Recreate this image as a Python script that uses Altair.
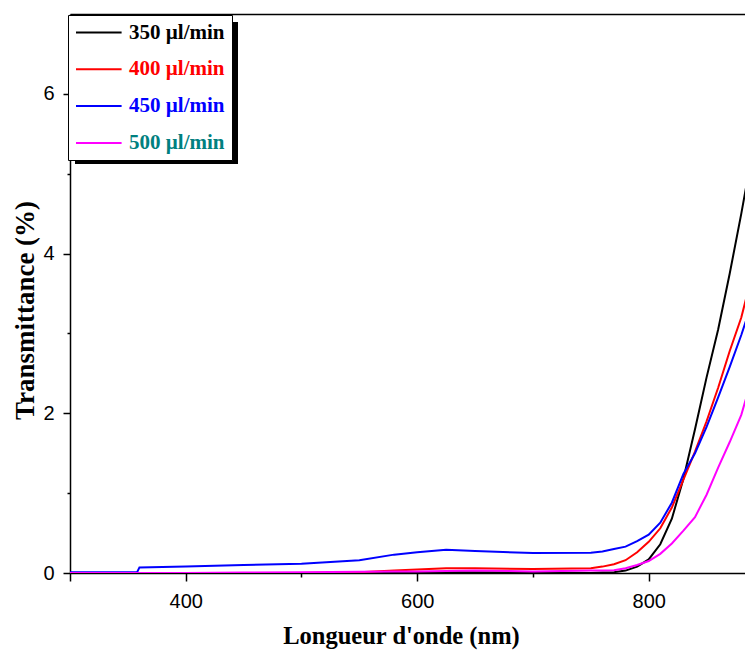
import altair as alt
import pandas as pd

# ---- data ----
wavelength = [300, 330, 358, 360, 400, 450, 500, 550, 580, 600, 625, 650, 700, 750,
              760, 770, 780, 790, 800, 810, 820, 830, 840, 850, 860, 870, 880, 890]
t_350 = [0.0, 0.0, 0.0, 0.0, 0.0, 0.0, 0.0, 0.0, 0.0, 0.005, 0.01, 0.01, 0.005, 0.0,
         0.005, 0.01, 0.03, 0.08, 0.17, 0.36, 0.68, 1.18, 1.80, 2.45, 3.05, 3.75, 4.5, 5.3]
t_400 = [0.0, 0.0, 0.0, 0.0, 0.0, 0.0, 0.0, 0.01, 0.03, 0.045, 0.06, 0.06, 0.05, 0.06,
         0.08, 0.11, 0.16, 0.26, 0.39, 0.56, 0.82, 1.17, 1.52, 1.90, 2.32, 2.78, 3.2, 3.77]
t_450 = [0.01, 0.01, 0.01, 0.07, 0.08, 0.10, 0.115, 0.16, 0.23, 0.26, 0.29, 0.275, 0.25, 0.255,
         0.27, 0.30, 0.33, 0.40, 0.48, 0.63, 0.88, 1.24, 1.50, 1.83, 2.2, 2.58, 2.98, 3.42]
t_500 = [0.0, 0.0, 0.0, 0.0, 0.0, 0.005, 0.01, 0.015, 0.02, 0.02, 0.025, 0.03, 0.02, 0.03,
         0.03, 0.035, 0.06, 0.10, 0.15, 0.24, 0.37, 0.53, 0.70, 0.98, 1.32, 1.64, 1.98, 2.48]

series_names = ["350 µl/min", "400 µl/min", "450 µl/min", "500 µl/min"]
line_colors = ["#000000", "#ff0000", "#0000ff", "#ff00ff"]
label_colors = ["#000000", "#ff0000", "#0000ff", "#008080"]

x_major = [300, 400, 600, 800]
x_minor = [500, 700]
y_major = [0, 2, 4, 6]
y_minor = [1, 3, 5]

rows = []
for name, vals in zip(series_names, [t_350, t_400, t_450, t_500]):
    for w, v in zip(wavelength, vals):
        rows.append({"wl": w, "T": v, "series": name})
df = pd.DataFrame(rows)

xscale = alt.Scale(domain=[300, 883.2], nice=False, zero=False)
yscale = alt.Scale(domain=[0, 7], nice=False, zero=False)

label_expr = "[" + ",".join(f"'{c}'" for c in label_colors) + "][datum.index]"

lines = alt.Chart(df).mark_line(strokeWidth=2, clip=True).encode(
    x=alt.X("wl:Q", scale=xscale,
            axis=alt.Axis(orient="bottom", values=x_major, title="Longueur d'onde (nm)",
                          labelExpr="datum.value == 300 ? '' : datum.label",
                          tickSize=8, labelPadding=10, labelFlush=False,
                          titleX=331, titleY=70, titleBaseline="alphabetic",
                          titleFontSize=24.5)),
    y=alt.Y("T:Q", scale=yscale,
            axis=alt.Axis(orient="left", values=y_major, title="Transmittance (%)", format="d",
                          tickSize=7, labelPadding=9, labelFlush=False,
                          titleX=-37, titleY=296, titleBaseline="alphabetic",
                          titleFontSize=27)),
    color=alt.Color("series:N",
                    scale=alt.Scale(domain=series_names, range=line_colors),
                    legend=alt.Legend(title=None, orient="none", legendX=-2, legendY=1,
                                      fillColor="white", strokeColor="black",
                                      padding=7, rowPadding=14.8,
                                      symbolType="M-1.0,0H3.8", symbolSize=361,
                                      symbolStrokeWidth=2, labelOffset=33,
                                      labelFont="Liberation Serif", labelFontWeight="bold",
                                      labelFontSize=21, labelColor={"expr": label_expr},
                                      labelLimit=300)),
)

minor = alt.Chart(df).mark_line(opacity=0).encode(
    x=alt.X("wl:Q", scale=xscale,
            axis=alt.Axis(orient="bottom", values=x_minor, labels=False, domain=False,
                          tickSize=4, title=None)),
    y=alt.Y("T:Q", scale=yscale,
            axis=alt.Axis(orient="left", values=y_minor, labels=False, domain=False,
                          tickSize=3, title=None)),
)

top = alt.Chart(df).mark_line(opacity=0).encode(
    x=alt.X("wl:Q", scale=xscale,
            axis=alt.Axis(orient="top", labels=False, ticks=False, domain=True, title=None)),
    y=alt.Y("T:Q", scale=yscale, axis=None),
)

shadow = alt.Chart(pd.DataFrame({"k": [0]})).mark_rect(color="black").encode(
    x=alt.value(5), x2=alt.value(168), y=alt.value(8), y2=alt.value(150)
)

chart = alt.layer(shadow, minor, top, lines).resolve_axis(
    x="independent", y="independent"
).properties(
    width=675, height=559,
    padding={"left": 62, "top": 6, "right": 0, "bottom": 80},
    autosize=alt.AutoSizeParams(type="none"),
).configure_view(stroke=None).configure_axis(
    grid=False, domainColor="black", tickColor="black", domainWidth=1.5, tickWidth=1.5,
    labelFont="Liberation Sans Narrow, Liberation Sans", labelFontSize=20, labelColor="black",
    titleFont="Liberation Serif", titleFontWeight="bold", titleColor="black",
)

chart.save("out.html", embed_options={"renderer": "svg", "actions": False})
